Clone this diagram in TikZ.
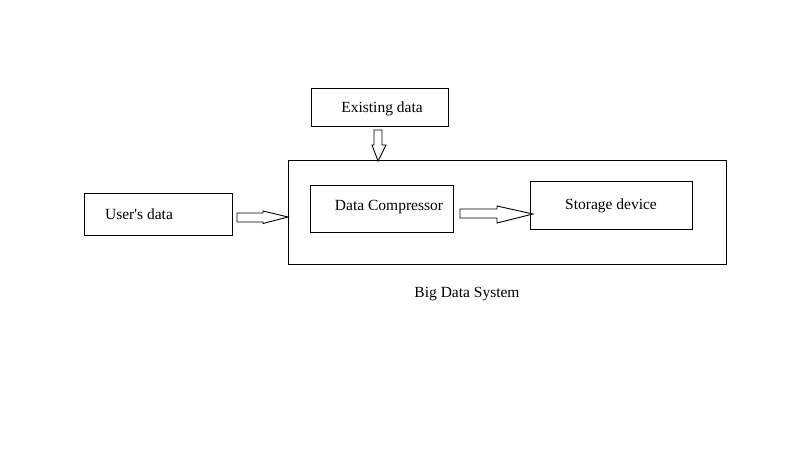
\documentclass[tikz,border=0pt]{standalone}
\usepackage{fontspec}
\setmainfont{Liberation Serif}
\begin{document}
\begin{tikzpicture}[x=1pt,y=-1pt,
  box/.style={draw=black,line width=1pt},
  lbl/.style={font=\fontsize{15.5}{18}\selectfont,inner sep=0pt,anchor=center},
  blockarrow/.style={draw=black,line width=0.9pt,fill=white,line join=miter}]
\useasboundingbox[fill=white] (0,0) rectangle (806,476);
% boxes
\draw[box] (311,89) rectangle (448,127);
\draw[box] (288,161) rectangle (726,264);
\draw[box] (84,193) rectangle (232,235);
\draw[box] (310,185) rectangle (453,232);
\draw[box] (530,181) rectangle (692,229);
% labels
\node[lbl] (existing) at (382,109) {Existing data};
\node[lbl] (users) at (139,214) {User\textquotesingle s data};
\node[lbl] (compressor) at (389,207) {Data Compressor};
\node[lbl] (storage) at (611,206) {Storage device};
\node[lbl] (system) at (467,294) {Big Data System};
% block arrows
\draw[blockarrow] (237,213) -- (263,213) -- (263,211) -- (288,217) -- (263,223.5) -- (263,222) -- (237,222) -- cycle;
\draw[blockarrow] (460,209) -- (497,209) -- (497,206) -- (533,214) -- (497,223) -- (497,218) -- (460,218) -- cycle;
\draw[blockarrow] (374,130) -- (382,130) -- (382,145) -- (386,145) -- (378,161) -- (372,145) -- (374,145) -- cycle;
\end{tikzpicture}
\end{document}
